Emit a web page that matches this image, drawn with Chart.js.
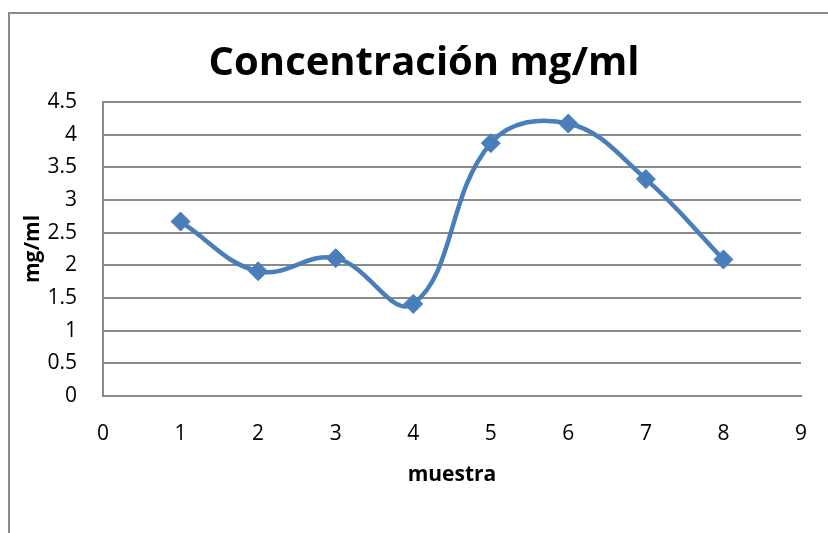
<!DOCTYPE html>
<html>
<head>
<meta charset="utf-8">
<script src="https://cdn.jsdelivr.net/npm/chart.js@4/dist/chart.umd.min.js"></script>
<style>
html,body{margin:0;padding:0;background:#fff;}
#wrap{position:relative;width:828px;height:533px;overflow:hidden;}
#frame{position:absolute;left:8px;top:12px;width:900px;height:600px;border-left:2px solid #8a8a8a;border-top:2px solid #8a8a8a;pointer-events:none;}
canvas{position:absolute;left:0;top:0;}
</style>
</head>
<body>
<div id="wrap">
<canvas id="c" width="828" height="533"></canvas>
<div id="frame"></div>
</div>
<script>
const muestra = [1, 2, 3, 4, 5, 6, 7, 8];
const concentracion = [2.67, 1.91, 2.11, 1.41, 3.87, 4.17, 3.32, 2.09];
const xTicks = [0, 1, 2, 3, 4, 5, 6, 7, 8, 9];
const yTicks = [0, 0.5, 1, 1.5, 2, 2.5, 3, 3.5, 4, 4.5];
const titleText = 'Concentración mg/ml';
const xTitle = 'muestra';
const yTitle = 'mg/ml';

const points = muestra.map((m, i) => ({x: m, y: concentracion[i]}));
const FONT = '"Open Sans", Lato, sans-serif';

const titlePlugin = {
  id: 'excelTitle',
  afterDraw(chart) {
    const ctx = chart.ctx;
    ctx.save();
    ctx.fillStyle = '#000';
    ctx.font = 'bold 40px ' + FONT;
    ctx.textAlign = 'center';
    ctx.textBaseline = 'middle';
    ctx.fillText(titleText, 424, 64);
    ctx.restore();
  }
};

new Chart(document.getElementById('c'), {
  type: 'line',
  data: {
    datasets: [{
      data: points,
      borderColor: '#4a7ebb',
      backgroundColor: '#4a7ebb',
      borderWidth: 4.5,
      tension: 0.4,
      pointStyle: 'rectRot',
      pointRadius: 9.5,
      pointHoverRadius: 9.5,
      pointBorderWidth: 1,
      pointBorderColor: '#4a7ebb',
      fill: false
    }]
  },
  options: {
    responsive: false,
    animation: false,
    layout: {padding: {left: 0, right: 27, top: 102, bottom: 45}},
    plugins: {
      legend: {display: false},
      tooltip: {enabled: false},
      title: {display: false}
    },
    scales: {
      x: {
        type: 'linear',
        min: 0, max: 9,
        afterBuildTicks: s => { s.ticks = xTicks.map(v => ({value: v})); },
        afterFit: s => { s.height = 92; },
        grid: {display: false, drawTicks: true, tickLength: 22},
        border: {display: true, color: '#8a8a8a', width: 2},
        ticks: {color: '#000', font: {family: FONT, size: 21}, padding: 3, callback: v => String(v)},
        title: {display: true, text: xTitle, color: '#000', font: {family: FONT, size: 21, weight: 'bold'}, padding: {top: 3, bottom: 0}}
      },
      y: {
        type: 'linear',
        min: 0, max: 4.5,
        afterBuildTicks: s => { s.ticks = yTicks.map(v => ({value: v})); },
        afterFit: s => { s.width = 103; },
        grid: {color: '#8a8a8a', lineWidth: 2, drawTicks: false},
        border: {display: true, color: '#8a8a8a', width: 2},
        ticks: {color: '#000', font: {family: FONT, size: 21}, padding: 26, callback: v => String(v)},
        title: {display: true, text: yTitle, color: '#000', font: {family: FONT, size: 21, weight: 'bold'}, padding: {top: 20, bottom: 0}}
      }
    }
  },
  plugins: [titlePlugin]
});
</script>
</body>
</html>
